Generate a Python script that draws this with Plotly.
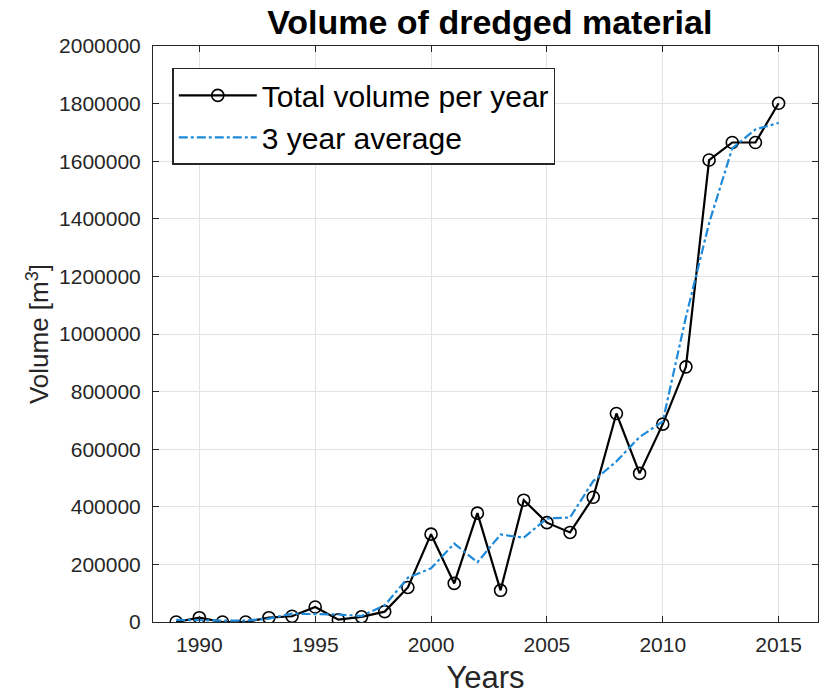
import plotly.graph_objects as go

# Annual dredged volume (m^3)
years = [1989, 1990, 1991, 1992, 1993, 1994, 1995, 1996, 1997, 1998, 1999,
         2000, 2001, 2002, 2003, 2004, 2005, 2006, 2007, 2008, 2009, 2010,
         2011, 2012, 2013, 2014, 2015]
total_volume = [0, 15000, 0, 0, 15000, 20000, 52000, 8000, 18000, 36000, 120000,
                305000, 134000, 378000, 110000, 423000, 345000, 311000, 433000,
                724000, 516000, 687000, 886000, 1604000, 1665000, 1665000, 1801000]
avg_3yr = [7500, 5000, 5000, 5000, 11700, 29000, 26700, 26000, 20700, 58000,
           153700, 186300, 272300, 207300, 303700, 292700, 359700, 363000,
           489300, 557700, 642300, 696300, 1059000, 1385000, 1644700, 1710300,
           1733000]

x_ticks = [1990, 1995, 2000, 2005, 2010, 2015]
y_ticks = list(range(0, 2000001, 200000))

FONT = "Liberation Sans, Arial, Helvetica, sans-serif"
AXIS_COLOR = "#262626"

fig = go.Figure()
fig.add_trace(go.Scatter(
    x=years, y=total_volume, mode="lines+markers",
    name="Total volume per year",
    line=dict(color="black", width=2.2),
    marker=dict(symbol="circle-open", size=12, color="black",
                line=dict(width=1.6, color="black")),
))
fig.add_trace(go.Scatter(
    x=years, y=avg_3yr, mode="lines",
    name="3 year average",
    line=dict(color="#1E8AD9", width=2.2, dash="dashdot"),
))

axis_common = dict(
    showline=True, linecolor=AXIS_COLOR, linewidth=1, mirror="ticks",
    ticks="inside", ticklen=6, tickcolor=AXIS_COLOR, tickwidth=1,
    showgrid=True, gridcolor="#E3E3E3", gridwidth=1, zeroline=False,
    tickfont=dict(family=FONT, size=21, color=AXIS_COLOR),
)

fig.update_layout(
    width=819, height=695,
    margin=dict(l=153, r=1, t=46, b=73),
    paper_bgcolor="white", plot_bgcolor="white",
    font=dict(family=FONT, color=AXIS_COLOR),
    title=dict(text="<b>Volume of dredged material</b>",
               font=dict(family=FONT, size=34, color="black"),
               x=0.598, xanchor="center", y=0.968, yanchor="middle"),
    xaxis=dict(range=[1988, 2016.7], tickvals=x_ticks, ticklabelstandoff=4,
               title=dict(text="Years", font=dict(family=FONT, size=31, color=AXIS_COLOR),
                          standoff=12),
               **axis_common),
    yaxis=dict(range=[0, 2000000], tickvals=y_ticks, tickformat="d",
               ticklabelstandoff=7,
               title=dict(text="Volume [m<sup>3</sup>]",
                          font=dict(family=FONT, size=26, color=AXIS_COLOR),
                          standoff=2),
               **axis_common),
    legend=dict(x=0.029, y=0.962, xanchor="left", yanchor="top",
                bgcolor="white", bordercolor=AXIS_COLOR, borderwidth=1.5,
                font=dict(family=FONT, size=30, color="black"),
                itemwidth=78, tracegroupgap=0),
    showlegend=True,
)

fig.write_html("out.html")
